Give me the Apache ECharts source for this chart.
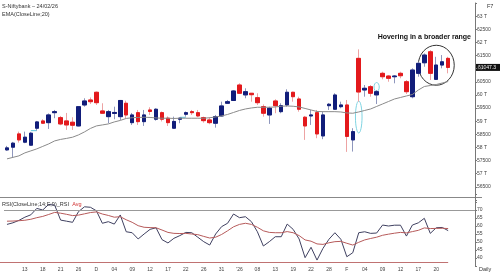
<!DOCTYPE html>
<html><head><meta charset="utf-8">
<script src="https://cdn.jsdelivr.net/npm/echarts@6/dist/echarts.min.js"></script>
<style>html,body{margin:0;padding:0;background:#fff}#c{width:500px;height:280px}</style>
</head><body><div id="c"></div>
<script>
// ---- data ----
const dates = [
 '2025-11-10','2025-11-11','2025-11-12','2025-11-13','2025-11-14','2025-11-17','2025-11-18','2025-11-19','2025-11-20','2025-11-21',
 '2025-11-24','2025-11-25','2025-11-26','2025-11-27','2025-11-28',
 '2025-12-01','2025-12-02','2025-12-03','2025-12-04','2025-12-05','2025-12-08','2025-12-09','2025-12-10','2025-12-11','2025-12-12',
 '2025-12-15','2025-12-16','2025-12-17','2025-12-18','2025-12-19','2025-12-22','2025-12-23','2025-12-24','2025-12-26','2025-12-29',
 '2025-12-30','2025-12-31',
 '2026-01-01','2026-01-02','2026-01-05','2026-01-06','2026-01-07','2026-01-08','2026-01-09','2026-01-12','2026-01-13','2026-01-14',
 '2026-01-16','2026-01-19','2026-01-20','2026-01-21','2026-01-22','2026-01-23','2026-01-27','2026-01-28','2026-01-29','2026-01-30',
 '2026-02-01','2026-02-02','2026-02-03','2026-02-04','2026-02-05','2026-02-06','2026-02-09','2026-02-10','2026-02-11','2026-02-12',
 '2026-02-13','2026-02-16','2026-02-17','2026-02-18','2026-02-19','2026-02-20','2026-02-23','2026-02-24'
];
const padding = ['p1','p2','p3','p4'];
const tickLabels = ['13','18','21','26','D','04','09','12','17','22','26','31',"'26",'08','13','19','22','28','F','04','09','12','17','20'];

const opens = [57908,58011,58516,58201,58087,58733,59010,58945,59325,59135,59010,58961,58820,59618,59808,60101,59390,59173,59295,59173,
 59683,58945,59325,58983,59428,59075,59325,59113,58733,59075,59265,59363,59325,59135,59048,58923,59200,59683,59789,60378,
 60002,60063,59895,59553,59238,59770,59363,59618,60101,59846,59151,59200,59325,58440,59591,59455,59553,59618,58288,61392,
 60188,60313,60002,60823,60720,60693,60823,60503,59933,60823,61225,61643,60593,61138,61392];
const closes = [57984,58163,58288,58391,58543,58972,58923,59238,59363,58896,58858,58847,59553,59770,59743,59705,59303,59363,59333,59789,
 59238,59238,58983,59238,59371,59455,59075,58945,58991,59113,59325,59325,59200,59021,58945,59173,59580,59743,60150,60063,
 60123,60009,59705,59303,59493,59591,59591,60101,59933,59455,58820,59238,58516,59238,59645,59998,59618,58421,58603,60112,
 60253,60063,60123,60693,60633,60720,60731,60123,60948,61203,61518,60823,61138,61262,61047.3];
const lows = [57870,57604,58185,58163,58060,58641,58896,58706,59113,58847,58668,58668,58801,59553,59656,59618,59276,58923,59075,59048,
 59113,58858,58858,58820,59238,59021,58991,58820,58706,58923,59173,59238,59151,58945,58885,58755,59173,59656,59770,60036,
 59873,59743,59618,59173,58896,59303,59303,59553,59743,59363,58288,58858,58353,58315,59428,59428,59493,57832,57844,59743,
 59933,59933,59656,60595,60503,60443,60633,60036,59873,60693,61073,60568,60568,61013,60822];
const highs = [58060,58212,58603,58603,58592,59010,59075,59295,59428,59200,59314,59151,59561,59873,59903,60131,59683,59428,59553,59808,
 59781,59314,59428,59428,59531,59493,59371,59181,59173,59143,59371,59428,59428,59173,59151,59238,59743,59808,60188,60443,
 60253,60074,60063,59637,59553,59835,59683,60215,60123,59933,59200,59428,59428,59363,59694,60063,59743,59808,58733,61735,
 60378,60378,60188,60883,60758,60758,60883,60568,61013,61262,61582,61708,61452,61518,61452];
const ema20 = [57566,57623,57680,57794,57870,57946,58041,58136,58250,58307,58345,58391,58478,58592,58725,58820,58858,58896,58972,59029,
 59105,59132,59143,59151,59143,59124,59113,59113,59105,59113,59113,59113,59113,59113,59132,59162,59200,59257,59333,59409,
 59466,59504,59531,59531,59531,59542,59569,59580,59569,59542,59485,59428,59371,59363,59363,59363,59352,59314,59303,59352,
 59409,59466,59561,59656,59751,59846,59903,59960,60017,60188,60321,60359,60397,60454,60511];
const rsi = [61,62,63.5,65.5,67,71,70,73.5,73,63.7,63,62.3,69,72,71.7,69.5,61.7,62.7,61.2,66.9,
 56.4,55.8,51.9,55,57.9,58.9,51.5,49.4,52.3,54,56,55.8,53,50.2,48.1,55,59.6,61.7,67.5,65.2,
 65.8,62.7,56.4,47.5,50.2,53.3,53.3,61.2,57.9,51.9,40.2,46.7,38.7,46,51.7,55.8,51.7,40.8,43.3,55.8,
 56.4,55.4,55.6,60.6,60,60.5,60.5,53.7,60.6,62,64.8,55.4,58.9,59.1,57.1];
const rsiAvg = [63,63.1,63.3,63.6,64.2,65.2,66,67.2,68.5,68,67.3,66.5,66.8,67.6,68.4,68.8,67.5,66.6,65.5,65.8,
 63.9,62.3,60.2,59.2,59,58.9,57.5,56,55.4,55.3,55.4,55,54.6,53.5,52.5,53,54.7,57,59.5,61,
 61.7,61,59.2,57,56,55.8,55.8,56.5,55.8,54,51.3,50.5,48.8,48.5,49.5,50.2,50.4,49.2,48.1,49.8,
 51.3,52.2,53,54.2,54.9,55.5,56,55.7,56.5,57.3,58.8,58.4,58.5,58.6,58.4];
const lastPriceText = '61047.3';
const rsiLevel = 70;

// ---- chart ----
const FONT = 'Liberation Sans';
const UP = '#111d7a', DOWN = '#e3191c', UPW = '#8f97bd', DOWNW = '#eda3a3';
const cats = dates.concat(padding);
const ohlc = opens.map((o, i) => [o, closes[i], lows[i], highs[i]]);
const bodies = opens.map((o, i) => [o, closes[i], Math.min(o, closes[i]), Math.max(o, closes[i])]);
const lastIdx = dates.length - 1;

const chart = echarts.init(document.getElementById('c'));
const lbl = {fontSize: 5, color: '#444', fontFamily: FONT};
chart.setOption({
  animation: false,
  grid: [{left: 4, right: 25, top: 3, bottom: 80}, {left: 4, right: 25, top: 194, bottom: 14}],
  xAxis: [
    {type: 'category', gridIndex: 0, data: cats, show: false},
    {type: 'category', gridIndex: 1, data: cats, axisLine: {show: false}, axisTick: {show: false},
     axisLabel: Object.assign({margin: 1, interval: (i) => i > 0 && i % 3 === 0 && i <= 72,
       formatter: (v, i) => tickLabels[i / 3 - 1] || ''}, lbl)}
  ],
  yAxis: [
    {type: 'value', gridIndex: 0, position: 'right', min: 56000, max: 63500, interval: 500,
     axisLine: {show: true, lineStyle: {color: '#777'}}, axisTick: {show: true, length: 2, lineStyle: {color: '#777'}},
     splitLine: {show: false},
     axisLabel: Object.assign({margin: 2, formatter: v => (v === 56000 || v === 63500) ? '' : (v % 1000 === 0 ? (v / 1000) + ' T' : String(v))}, lbl)},
    {type: 'value', gridIndex: 1, position: 'right', min: 35, max: 80, interval: 5,
     axisLine: {show: true, lineStyle: {color: '#777'}}, axisTick: {show: true, length: 2, lineStyle: {color: '#777'}},
     splitLine: {show: false},
     axisLabel: Object.assign({margin: 2, formatter: v => (v < 40 || v > 70) ? '' : String(v)}, lbl)}
  ],
  series: [
    {type: 'candlestick', xAxisIndex: 0, yAxisIndex: 0, data: ohlc, barWidth: 4, silent: true,
     itemStyle: {color: UPW, color0: DOWNW, borderColor: UPW, borderColor0: DOWNW, borderWidth: 1}},
    {type: 'candlestick', xAxisIndex: 0, yAxisIndex: 0, data: bodies, barWidth: 4, silent: true,
     itemStyle: {color: UP, color0: DOWN, borderColor: UP, borderColor0: DOWN, borderWidth: 1}},
    {type: 'line', xAxisIndex: 0, yAxisIndex: 0, data: ema20, symbol: 'none', silent: true,
     lineStyle: {color: '#8a8a8a', width: 1}},
    {type: 'line', xAxisIndex: 1, yAxisIndex: 1, data: rsi, symbol: 'none', silent: true,
     lineStyle: {color: '#3f4060', width: 1},
     markLine: {silent: true, symbol: 'none', label: {show: false}, lineStyle: {color: '#999', type: 'solid', width: 1},
       data: [{yAxis: rsiLevel}]}},
    {type: 'line', xAxisIndex: 1, yAxisIndex: 1, data: rsiAvg, symbol: 'none', silent: true,
     lineStyle: {color: '#b65a5a', width: 1}}
  ]
});

const P = (i, v, g) => chart.convertToPixel({gridIndex: g || 0}, [i, v]);
const circ = P(72.2, 61130);
const note = P(69.8, 62200);
const e1 = P(58.5, 59160);
const e2 = P(62.3, 60302);
const g1a = P(4, 58640), g1b = P(5, 58640);
const g2a = P(29, 59149), g2b = P(30, 59149);
const lp = P(lastIdx, closes[lastIdx]);
const pinkEnd = P(lastIdx, 40, 1);
const hdr = {fontSize: 5.5, fill: '#333', fontFamily: FONT};
chart.setOption({
  graphic: [
    {type: 'text', left: 2, top: 3, style: Object.assign({text: 'S-Niftybank – 24/02/26'}, hdr)},
    {type: 'text', left: 2, top: 11, style: Object.assign({text: 'EMA(CloseLine;20)'}, hdr)},
    {type: 'text', left: 487, top: 3, style: Object.assign({text: 'F7'}, hdr)},
    {type: 'text', left: 2, top: 198, style: {text: '{a|RSI(CloseLine;14;E;9)_RSI} {b|Avg}', fontFamily: FONT,
      rich: {a: {fontSize: 5.5, fill: '#333', fontFamily: FONT}, b: {fontSize: 5.5, fill: '#d03030', fontFamily: FONT}}}},
    {type: 'text', left: 479, top: 266, style: Object.assign({text: 'Daily'}, hdr)},
    {type: 'line', shape: {x1: 0, y1: 197.5, x2: 482, y2: 197.5}, style: {stroke: '#888', lineWidth: 1}},
    {type: 'line', shape: {x1: 0, y1: 262.5, x2: pinkEnd[0], y2: 262.5}, style: {stroke: '#c07272', lineWidth: 1}},
    {type: 'rect', shape: {x: 476, y: lp[1] - 3.5, width: 24, height: 7}, style: {fill: '#111'}},
    {type: 'text', x: 478, y: lp[1], style: {text: lastPriceText, fill: '#fff', fontSize: 5, fontFamily: FONT, textVerticalAlign: 'middle'}},
    {type: 'ellipse', shape: {cx: circ[0], cy: circ[1], rx: 18, ry: 20}, style: {fill: 'none', stroke: '#333', lineWidth: 1}},
    {type: 'text', x: note[0], y: note[1], style: {text: 'Hovering in a broader range', fontSize: 7, fontWeight: 'bold',
      fill: '#111', fontFamily: FONT, textAlign: 'center', textVerticalAlign: 'middle'}},
    {type: 'ellipse', shape: {cx: e1[0], cy: e1[1], rx: 3.3, ry: 16}, style: {fill: 'none', stroke: '#7fd4e2', lineWidth: 1}},
    {type: 'ellipse', shape: {cx: e2[0], cy: e2[1], rx: 2.6, ry: 4.5}, style: {fill: 'none', stroke: '#7fd4e2', lineWidth: 1}},
    {type: 'line', shape: {x1: g1a[0], y1: g1a[1], x2: g1b[0], y2: g1b[1]}, style: {stroke: '#5fc8dc', lineWidth: 1}},
    {type: 'line', shape: {x1: g2a[0], y1: g2a[1], x2: g2b[0], y2: g2b[1]}, style: {stroke: '#5fc8dc', lineWidth: 1}}
  ]
});
</script></body></html>
